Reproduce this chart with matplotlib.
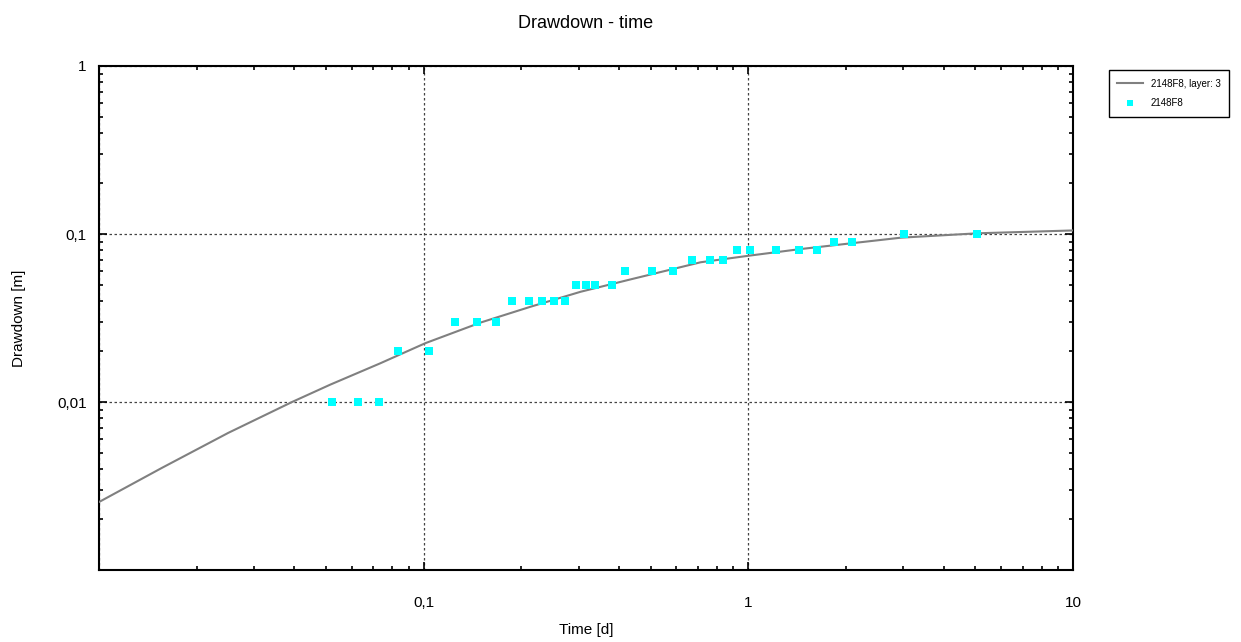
import numpy as np
import matplotlib.pyplot as plt
from matplotlib.ticker import LogLocator, FuncFormatter, NullFormatter

plt.rcParams['font.family'] = ['Liberation Sans', 'DejaVu Sans']

# Measured drawdown, well 2148F8
obs_time = [0.0523, 0.0629, 0.073, 0.0836, 0.1041, 0.1253, 0.1464, 0.1675,
            0.1877, 0.2104, 0.2307, 0.2512, 0.2716, 0.2937, 0.3152, 0.336,
            0.379, 0.418, 0.5036, 0.5845, 0.669, 0.760, 0.834, 0.921, 1.01,
            1.214, 1.429, 1.624, 1.83, 2.08, 3.01, 5.06]
obs_drawdown = [0.01, 0.01, 0.01, 0.02, 0.02, 0.03, 0.03, 0.03,
                0.04, 0.04, 0.04, 0.04, 0.04, 0.05, 0.05, 0.05,
                0.05, 0.06, 0.06, 0.06, 0.07, 0.07, 0.07, 0.08, 0.08,
                0.08, 0.08, 0.08, 0.09, 0.09, 0.10, 0.10]

# Fitted curve, layer 3
fit_time = [0.01, 0.0156, 0.025, 0.0393, 0.0516, 0.0735, 0.1012, 0.1496,
            0.2133, 0.3042, 0.434, 0.7133, 1.005, 1.451, 2.069, 2.951,
            5.10, 10.0]
fit_drawdown = [0.00254, 0.00405, 0.00655, 0.0100, 0.0127, 0.0170, 0.0224,
                0.0297, 0.0369, 0.0453, 0.0537, 0.0679, 0.0743, 0.0814,
                0.0880, 0.0951, 0.101, 0.105]


def comma_fmt(v, pos, lowest):
    if v <= lowest * 1.01:
        return ''
    s = f'{v:g}'
    return s.replace('.', ',')


fig = plt.figure(figsize=(12.41, 6.42), dpi=100)
ax = fig.add_axes([0.0798, 0.1121, 0.7848, 0.7851])

ax.plot(fit_time, fit_drawdown, color='#808080', linewidth=1.5,
        label='2148F8, layer: 3', zorder=3)
ax.plot(obs_time, obs_drawdown, 's', color='#00FFFF', markersize=5.5,
        markeredgewidth=0, label='2148F8', zorder=4)

ax.set_xscale('log')
ax.set_yscale('log')
ax.set_xlim(0.01, 10)
ax.set_ylim(0.001, 1)

ax.xaxis.set_major_locator(LogLocator(base=10))
ax.yaxis.set_major_locator(LogLocator(base=10))
ax.xaxis.set_minor_locator(LogLocator(base=10, subs=np.arange(2, 10)))
ax.yaxis.set_minor_locator(LogLocator(base=10, subs=np.arange(2, 10)))
ax.xaxis.set_major_formatter(FuncFormatter(lambda v, p: comma_fmt(v, p, 0.01)))
ax.yaxis.set_major_formatter(FuncFormatter(lambda v, p: comma_fmt(v, p, 0.001)))
ax.xaxis.set_minor_formatter(NullFormatter())
ax.yaxis.set_minor_formatter(NullFormatter())

ax.tick_params(which='both', direction='in', top=True, right=True,
               labelsize=11, width=1.2)
ax.tick_params(which='major', length=6)
ax.tick_params(which='minor', length=3)
ax.tick_params(axis='x', which='major', pad=19)
ax.tick_params(axis='y', which='major', pad=9)

ax.grid(True, which='major', color='#444444', linestyle=(0, (2, 2)),
        linewidth=0.9)

for sp in ax.spines.values():
    sp.set_linewidth(1.5)

ax.set_title('Drawdown - time', fontsize=13, pad=27)
ax.set_xlabel('Time [d]', fontsize=11, labelpad=9)
ax.set_ylabel('Drawdown [m]', fontsize=11)
ax.yaxis.set_label_coords(-0.075, 0.5)

leg = fig.legend(loc='upper left', bbox_to_anchor=(0.8895, 0.8985),
                 fontsize=7, fancybox=False, edgecolor='black',
                 framealpha=1, borderpad=0.9, labelspacing=1.0,
                 handlelength=2.6, markerscale=0.8)
leg.get_frame().set_linewidth(1.0)

fig.savefig('out.png', dpi=100)
